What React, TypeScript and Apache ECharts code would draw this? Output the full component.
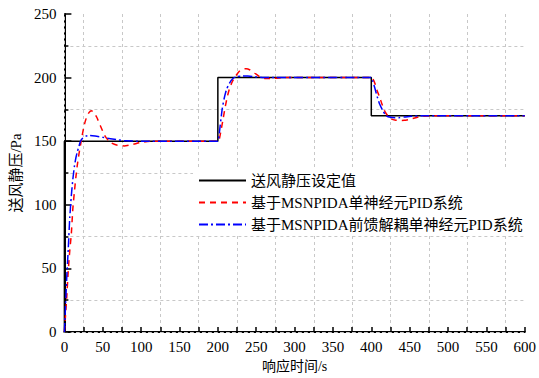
import React, { useEffect, useRef } from "react";
import * as echarts from "echarts";

const seriesNames = [
  "送风静压设定值",
  "基于MSNPIDA单神经元PID系统",
  "基于MSNPIDA前馈解耦单神经元PID系统",
];

const setT = [0, 0, 200, 200, 400, 400, 600];
const setV = [0, 150, 150, 200, 200, 170, 170];

const redT = [
  0, 1, 3, 5, 7, 9, 11, 13, 15, 17, 19, 21, 23, 26, 29, 32, 35, 38, 42, 47, 53, 60, 68, 78, 88, 100, 115, 200,
  201.5, 204, 207, 209, 212, 215, 219, 223, 228, 233, 237, 242, 248, 255, 262, 270, 285, 400,
  402, 405, 408, 410.7, 414, 418, 421.4, 426, 432, 438, 443, 450, 458, 467, 480, 600,
];
const redV = [
  0, 9, 27, 48, 64, 77, 97, 110, 122, 132, 140, 147, 154, 163, 169, 172.5, 174, 173, 169, 162, 154, 149, 147, 146.3, 147.3, 149, 150, 150,
  150.5, 158, 168, 175, 184, 191, 197, 201, 205, 206.8, 207, 206, 203.5, 200.5, 199.2, 199.3, 200, 200,
  199, 195, 189, 185, 179, 173, 170, 167.5, 166.5, 166.3, 166.4, 167.2, 168.5, 169.6, 170, 170,
];

const blueT = [
  0, 1, 3, 5, 7, 9, 11, 13, 15, 17, 19, 21, 24, 28, 32, 40, 50, 60, 70, 80, 100, 200,
  201, 203, 205.6, 208, 211, 215, 220, 225, 232, 239, 248, 260, 400,
  402, 404.5, 407.7, 411, 415, 419.3, 425, 431, 436, 443, 452, 465, 600,
];
const blueV = [
  0, 14, 42, 65, 90, 107, 120, 130, 137, 142, 146, 150, 152.5, 154, 154.5, 154, 153, 152, 151, 150.3, 150, 150,
  152, 162, 175, 183, 190, 195.5, 199.5, 200.8, 201.2, 201.2, 200.6, 200, 200,
  197, 192, 185, 179, 174, 170, 168.8, 168.5, 168.5, 169, 169.6, 170, 170,
];

const xTicks = { min: 0, max: 600, interval: 50 };
const yTicks = { min: 0, max: 250, interval: 50 };

const zip = (t: number[], v: number[]) => t.map((x, i) => [x, v[i]]);

const FONT = "'Liberation Serif', 'Noto Sans CJK SC', serif";

export default function App() {
  const ref = useRef<HTMLDivElement>(null);
  useEffect(() => {
    if (!ref.current) return;
    const chart = echarts.init(ref.current, null, { renderer: "svg" });
    const gridLine = { show: true, lineStyle: { color: "#c8c8c8", type: [3, 3], width: 1 } };
    chart.setOption({
      animation: false,
      grid: { left: 61, right: 12, top: 14, bottom: 45 },
      legend: {
        orient: "vertical",
        left: 193,
        top: 170,
        padding: [3, 6, 3, 5],
        itemGap: 7,
        itemWidth: 47,
        itemHeight: 14,
        backgroundColor: "#ffffff",
        itemStyle: { opacity: 0 },
        textStyle: { fontFamily: FONT, fontSize: 15, color: "#000" },
        data: seriesNames,
      },
      xAxis: [
        {
          type: "value",
          min: xTicks.min,
          max: xTicks.max,
          interval: xTicks.interval,
          name: "响应时间/s",
          nameLocation: "middle",
          nameGap: 27,
          nameTextStyle: { fontFamily: FONT, fontSize: 14, color: "#000" },
          axisLine: { onZero: false, lineStyle: { color: "#000", width: 2 } },
          axisTick: { inside: true, length: 5, lineStyle: { color: "#000", width: 1.5 } },
          minorTick: { show: true, splitNumber: 2, length: 5, lineStyle: { color: "#000", width: 1.5 } },
          splitLine: { show: false },
          minorSplitLine: gridLine,
          axisLabel: { fontFamily: FONT, fontSize: 15, color: "#000", margin: 7 },
        },
        {
          type: "value",
          position: "top",
          min: xTicks.min,
          max: xTicks.max,
          axisLine: { show: true, lineStyle: { color: "#c8c8c8", type: [3, 3], width: 1 } },
          axisTick: { show: false },
          axisLabel: { show: false },
          splitLine: { show: false },
        },
      ],
      yAxis: [
        {
          type: "value",
          min: yTicks.min,
          max: yTicks.max,
          interval: yTicks.interval,
          name: "送风静压/Pa",
          nameLocation: "middle",
          nameGap: 27,
          nameTextStyle: { fontFamily: FONT, fontSize: 15, color: "#000" },
          axisLine: { show: true, onZero: false, lineStyle: { color: "#000", width: 2 } },
          axisTick: { show: true, inside: true, length: 7, lineStyle: { color: "#000", width: 1.5 } },
          minorTick: { show: true, splitNumber: 2, length: 4, lineStyle: { color: "#000", width: 1.5 } },
          splitLine: { show: false },
          minorSplitLine: gridLine,
          axisLabel: { fontFamily: FONT, fontSize: 15, color: "#000", margin: 8 },
        },
        {
          type: "value",
          position: "right",
          min: yTicks.min,
          max: yTicks.max,
          axisLine: { show: true, lineStyle: { color: "#c8c8c8", type: [3, 3], width: 1 } },
          axisTick: { show: false },
          axisLabel: { show: false },
          splitLine: { show: false },
        },
      ],
      series: [
        {
          name: seriesNames[0],
          type: "line",
          data: zip(setT, setV),
          symbol: "none",
          lineStyle: { color: "#000", width: 1.5 },
          itemStyle: { color: "#000" },
          z: 2,
        },
        {
          name: seriesNames[1],
          type: "line",
          data: zip(redT, redV),
          symbol: "none",
          smooth: 0.2,
          lineStyle: { color: "#ff0000", width: 1.5, type: [6, 5] },
          itemStyle: { color: "#ff0000" },
          z: 3,
        },
        {
          name: seriesNames[2],
          type: "line",
          data: zip(blueT, blueV),
          symbol: "none",
          smooth: 0.2,
          lineStyle: { color: "#0000ff", width: 1.5, type: [9, 3, 2, 3] },
          itemStyle: { color: "#0000ff" },
          z: 4,
        },
      ],
    });
    return () => chart.dispose();
  }, []);
  return (
    <div
      ref={ref}
      style={{ position: "fixed", left: 0, top: 0, width: 539, height: 378, background: "#fff" }}
    />
  );
}
